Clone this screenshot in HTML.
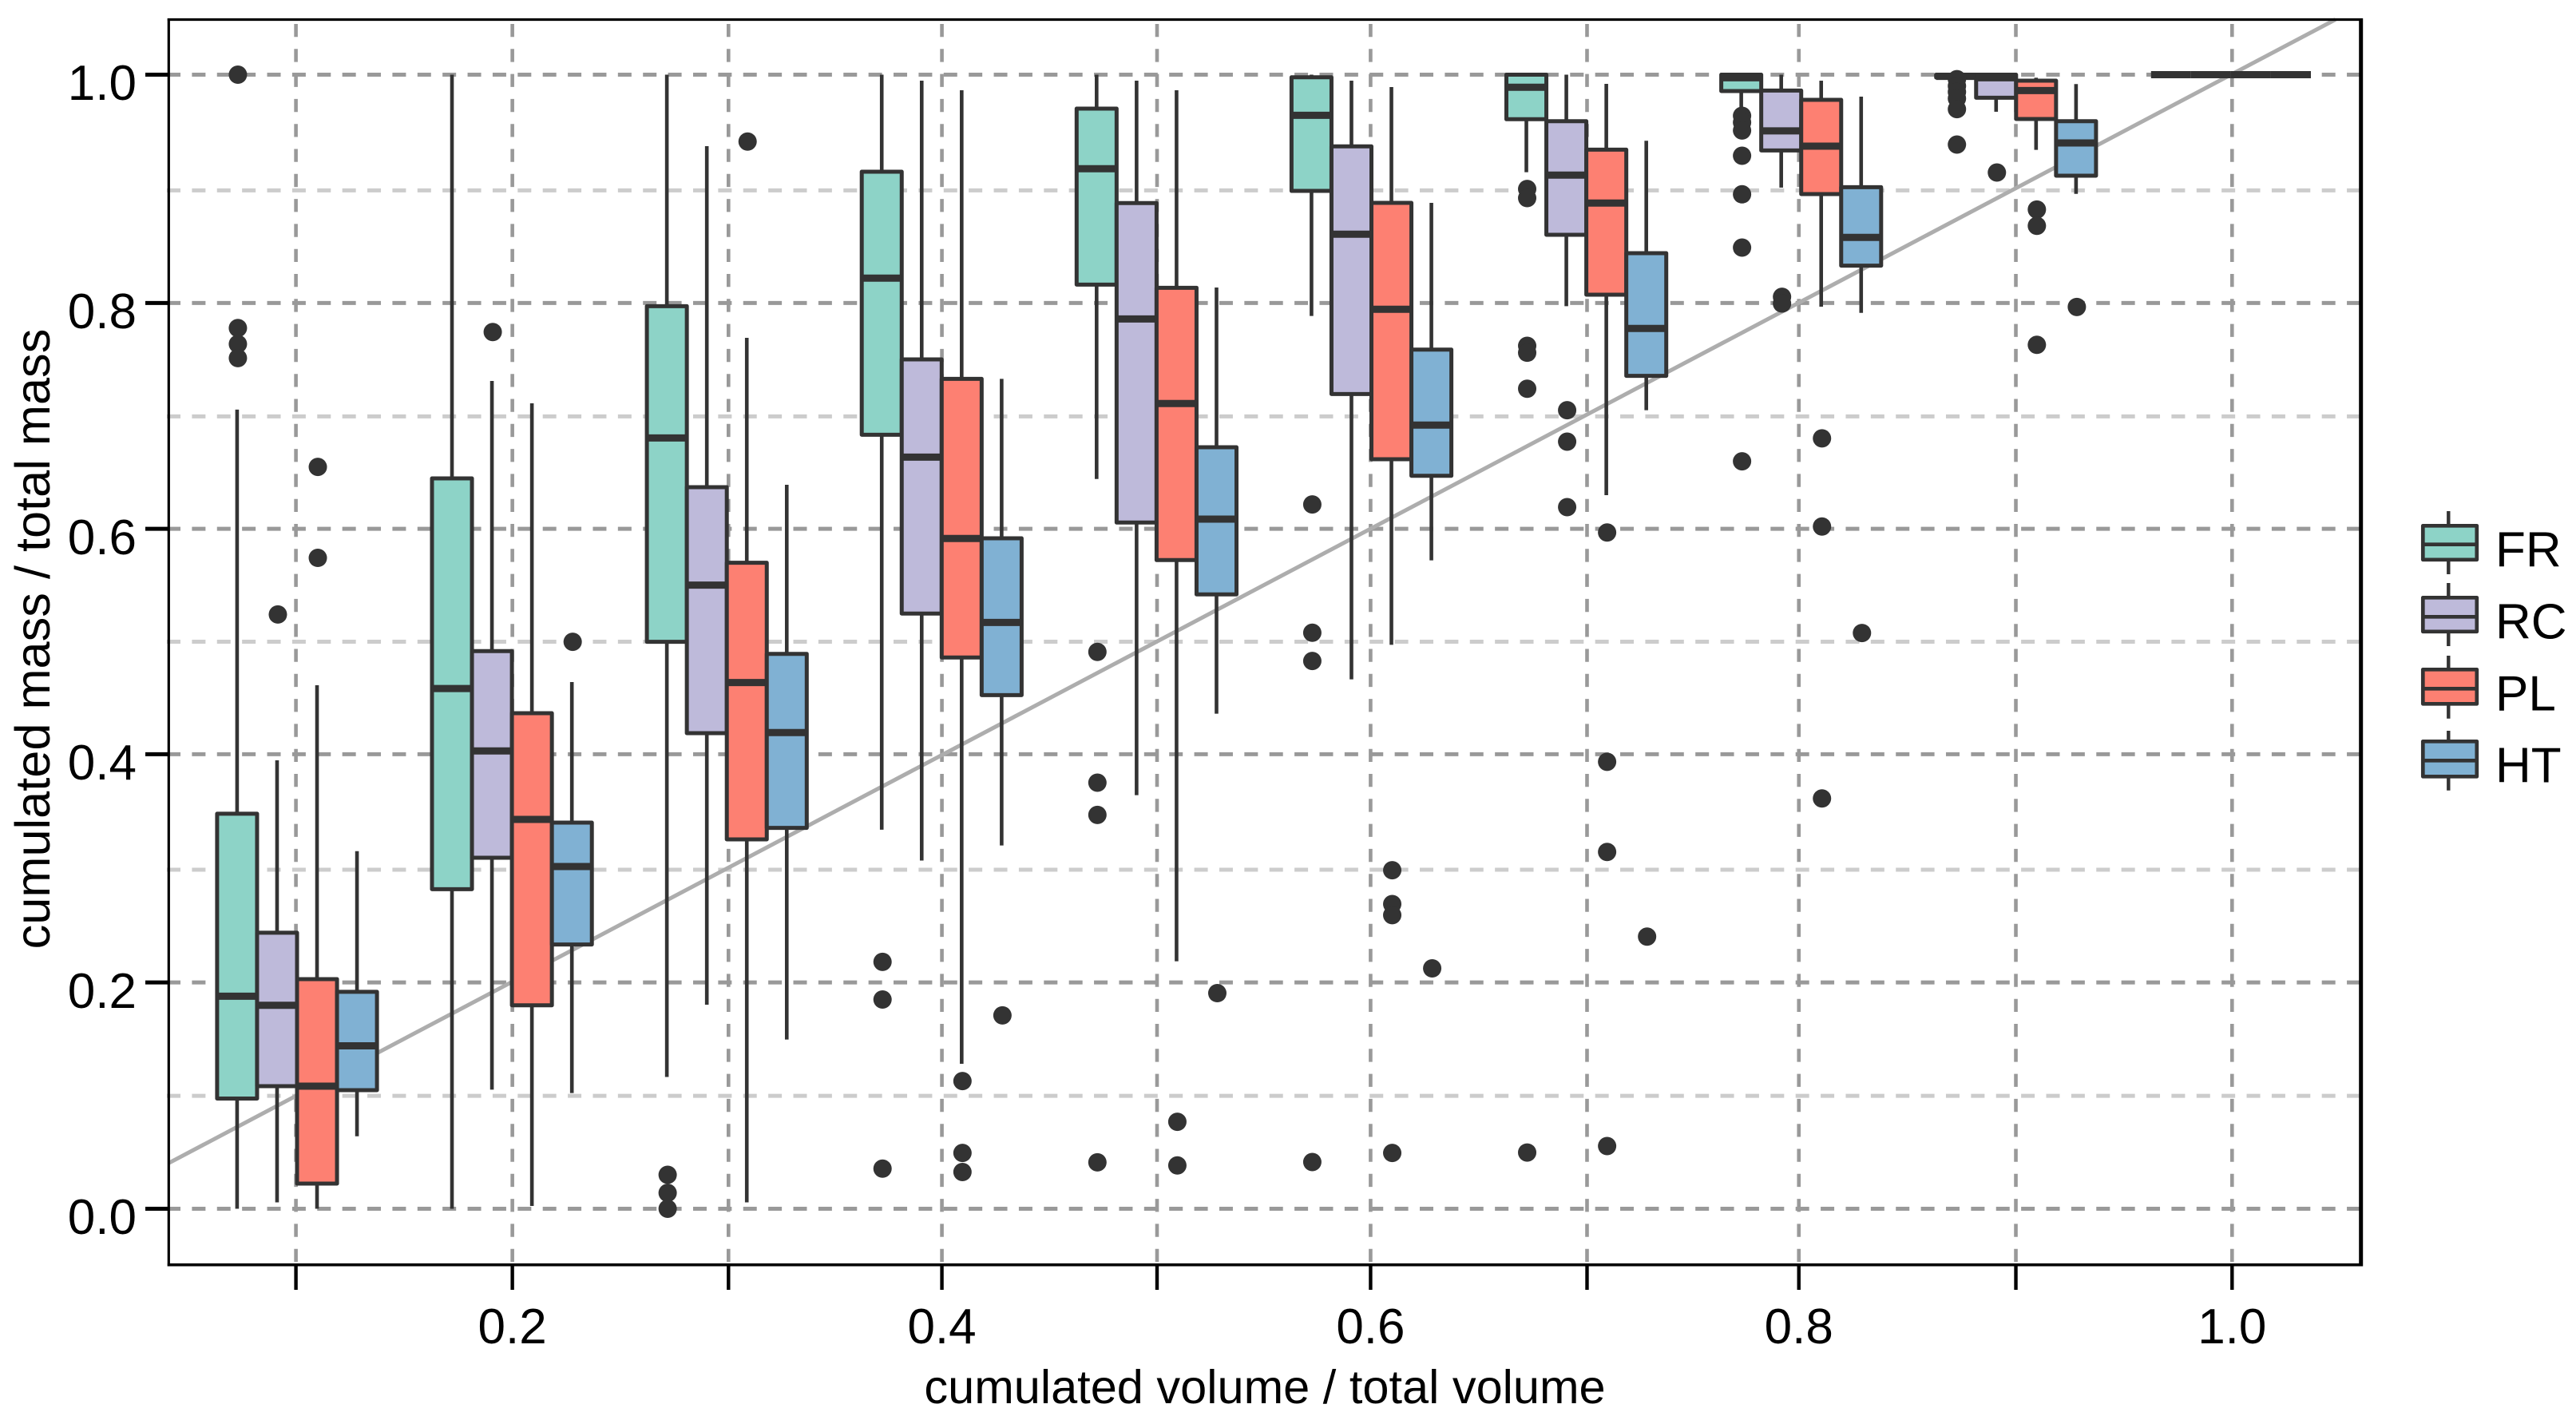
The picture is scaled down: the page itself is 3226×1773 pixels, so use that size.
<!DOCTYPE html>
<html lang="en">
<head>
<meta charset="utf-8">
<title>Cumulated mass vs cumulated volume</title>
<style>
html,body{margin:0;padding:0;background:#fff;}
svg{display:block;}
text{font-family:"Liberation Sans",Arial,sans-serif;fill:#000;}
</style>
</head>
<body>
<svg id="chart" xmlns="http://www.w3.org/2000/svg" width="3226" height="1773" viewBox="0 0 3226 1773">
  <rect x="0" y="0" width="3226" height="1773" fill="#ffffff"/>
  <g id="grid"></g>
  <g id="refline"></g>
  <g id="marks"></g>
  <g id="axes">
    <line x1="209.8" y1="24.5" x2="2959" y2="24.5" stroke="#000" stroke-width="3.2"/>
    <line x1="209.8" y1="1583.7" x2="2959" y2="1583.7" stroke="#000" stroke-width="3.6"/>
    <line x1="211.3" y1="23" x2="211.3" y2="1585.5" stroke="#000" stroke-width="3.2"/>
    <line x1="2956.7" y1="23" x2="2956.7" y2="1585.5" stroke="#000" stroke-width="5"/>
  </g>
  <text x="1584" y="1757" font-size="59.5" text-anchor="middle">cumulated volume / total volume</text>
  <text x="62" y="800" font-size="61.3" text-anchor="middle" transform="rotate(-90 62 800)">cumulated mass / total mass</text>
  <g stroke="#333333">
    <g>
      <line x1="3066.3" y1="640" x2="3066.3" y2="719" stroke-width="4.4"/>
      <rect x="3034.3" y="658.3" width="67.5" height="42.5" fill="#8DD3C7" stroke-width="4.7" stroke-linejoin="round"/>
      <line x1="3034" y1="681.7" x2="3102" y2="681.7" stroke-width="4.7"/>
      <text x="3125" y="709.3" font-size="62" stroke="none">FR</text>
    </g>
    <g>
      <line x1="3066.3" y1="730" x2="3066.3" y2="809" stroke-width="4.4"/>
      <rect x="3034.3" y="748.3" width="67.5" height="42.5" fill="#BEBADA" stroke-width="4.7" stroke-linejoin="round"/>
      <line x1="3034" y1="772.3" x2="3102" y2="772.3" stroke-width="4.7"/>
      <text x="3125" y="799.3" font-size="62" stroke="none">RC</text>
    </g>
    <g>
      <line x1="3066.3" y1="821" x2="3066.3" y2="899.7" stroke-width="4.4"/>
      <rect x="3034.3" y="838.3" width="67.5" height="43" fill="#FD8072" stroke-width="4.7" stroke-linejoin="round"/>
      <line x1="3034" y1="862.3" x2="3102" y2="862.3" stroke-width="4.7"/>
      <text x="3125" y="889.3" font-size="62" stroke="none">PL</text>
    </g>
    <g>
      <line x1="3066.3" y1="915" x2="3066.3" y2="989.7" stroke-width="4.4"/>
      <rect x="3034.3" y="928.3" width="67.5" height="44" fill="#80B1D3" stroke-width="4.7" stroke-linejoin="round"/>
      <line x1="3034" y1="952.3" x2="3102" y2="952.3" stroke-width="4.7"/>
      <text x="3125" y="979.3" font-size="62" stroke="none">HT</text>
    </g>
  </g>
</svg>
<script>
// Categories
const groups = [0.1,0.2,0.3,0.4,0.5,0.6,0.7,0.8,0.9,1.0];
const seriesNames = ['FR','RC','PL','HT'];

// FR series
const frHi  = [0.7047,1,1,1,1,1,1,1,1,1];
const frQ3  = [0.3483,0.644,0.7959,0.9144,0.9701,0.9977,1,1,1,1];
const frMed = [0.1874,0.4587,0.6797,0.8206,0.9171,0.9642,0.9889,0.9973,0.9985,1];
const frQ1  = [0.0972,0.2818,0.4999,0.6825,0.8149,0.8975,0.9607,0.9856,0.9975,1];
const frLo  = [0,0,0.1162,0.3342,0.6435,0.7872,0.9140,0.9692,0.9975,1];
const frOut = [[1,0.7766,0.7625,0.7501],[],[0.0299,0.014,0],[0.2177,0.1845,0.0354],[0.4910,0.3757,0.3473,0.0409],[0.6210,0.5079,0.4830,0.0412],[0.8992,0.8912,0.7609,0.7548,0.7231,0.0496],[0.9637,0.9579,0.9508,0.9285,0.8945,0.8475,0.6591],[0.996,0.990,0.9848,0.979,0.9696,0.9384],[]];

// RC series
const rcHi  = [0.3954,0.7299,0.9370,0.9947,0.9947,0.9947,1,1,1,1];
const rcQ3  = [0.2434,0.4917,0.6363,0.7489,0.8868,0.9368,0.9590,0.9860,1,1];
const rcMed = [0.1794,0.4037,0.5499,0.6628,0.7846,0.8593,0.9114,0.9504,0.9973,1];
const rcQ1  = [0.1081,0.3095,0.4194,0.5248,0.6051,0.7184,0.8588,0.9332,0.9797,1];
const rcLo  = [0.0056,0.105,0.1799,0.3070,0.3647,0.4668,0.7959,0.9004,0.9673,1];
const rcOut = [[0.524],[0.7731],[],[],[],[],[0.7041,0.6764,0.6187],[0.8041,0.7982],[0.9137],[]];

// PL series
const plHi  = [0.4616,0.7102,0.7680,0.9863,0.9863,0.9891,0.9919,0.9947,0.9973,1];
const plQ3  = [0.2025,0.437,0.5696,0.7318,0.8121,0.8870,0.9339,0.9778,0.9947,1];
const plMed = [0.1081,0.3433,0.4640,0.5910,0.7100,0.7931,0.8868,0.9370,0.9860,1];
const plQ1  = [0.0222,0.1794,0.3257,0.4861,0.5720,0.6609,0.8060,0.8947,0.9609,1];
const plLo  = [0,0.0025,0.0056,0.1278,0.2182,0.4973,0.6292,0.7954,0.9337,1];
const plOut = [[0.6541,0.5739],[],[0.9410],[0.1126,0.0492,0.0324],[0.0767,0.0382],[0.2985,0.2687,0.2589,0.0492],[0.5963,0.3941,0.3146,0.0553],[0.6793,0.6016,0.3618],[0.8811,0.8667,0.7618],[]];

// HT series
const htHi  = [0.3153,0.4644,0.6384,0.7318,0.8123,0.8870,0.9417,0.9806,0.9917,1];
const htQ3  = [0.1913,0.3405,0.4893,0.5912,0.6715,0.7576,0.8426,0.9008,0.9590,1];
const htMed = [0.1437,0.3018,0.4199,0.5170,0.6081,0.6910,0.7762,0.8565,0.9398,1];
const htQ1  = [0.1046,0.2330,0.3358,0.4529,0.5417,0.6463,0.7344,0.8316,0.9109,1];
const htLo  = [0.0639,0.102,0.1492,0.3203,0.4365,0.5717,0.7041,0.7900,0.8949,1];
const htOut = [[],[0.4999],[],[0.1705],[0.1901],[0.2120],[0.2400],[0.5077],[0.7952],[]];

// Tick labels and gridline locations, in data units
const yTickLabels = ['0.0','0.2','0.4','0.6','0.8','1.0'];
const yMajorAt = [0,0.1996,0.4008,0.5996,0.7987,1];
const yMinorAt = [0.0996,0.2989,0.5,0.6987,0.8980];
const xTickLabels = ['','0.2','','0.4','','0.6','','0.8','','1.0'];
const xGridAt = [0.09948,0.2002,0.30078,0.4001,0.50022,0.5996,0.70033,0.7989,0.8999,1.00052];

const seriesData = {
  FR:{hi:frHi,q3:frQ3,med:frMed,q1:frQ1,lo:frLo,out:frOut,fill:'#8DD3C7'},
  RC:{hi:rcHi,q3:rcQ3,med:rcMed,q1:rcQ1,lo:rcLo,out:rcOut,fill:'#BEBADA'},
  PL:{hi:plHi,q3:plQ3,med:plMed,q1:plQ1,lo:plLo,out:plOut,fill:'#FD8072'},
  HT:{hi:htHi,q3:htQ3,med:htMed,q1:htQ1,lo:htLo,out:htOut,fill:'#80B1D3'}
};

// Axis functions
function xScale(v){ return 372 + (v - 0.1) * 2691; }
function yScale(v){ return 1513.5 - 1420 * v; }
const dodge = 0.0186;
const boxWidth = 0.0186;
const PANEL = {left:211.3, right:2956.7, top:24.5, bottom:1583.7};

const NS = 'http://www.w3.org/2000/svg';
function make(parent, tag, attrs){
  const el = document.createElementNS(NS, tag);
  for (const k in attrs) el.setAttribute(k, attrs[k]);
  parent.appendChild(el);
  return el;
}

const gridG = document.getElementById('grid');
const refG = document.getElementById('refline');
const marksG = document.getElementById('marks');
const axesG = document.getElementById('axes');

// Horizontal minor gridlines
yMinorAt.forEach(function(v){
  const el = make(gridG,'line',{x1:209,x2:PANEL.right,y1:yScale(v),y2:yScale(v),stroke:'#cccccc','stroke-width':5,'stroke-dasharray':'17 14.38'});
  
  
});
// Vertical gridlines
xGridAt.forEach(function(v){
  const el = make(gridG,'line',{x1:xScale(v),x2:xScale(v),y1:30,y2:PANEL.bottom,stroke:'#999999','stroke-width':4.6,'stroke-dasharray':'16.3 15'});
  
  
});
// Horizontal major gridlines
yMajorAt.forEach(function(v){
  const el = make(gridG,'line',{x1:209,x2:PANEL.right,y1:yScale(v),y2:yScale(v),stroke:'#999999','stroke-width':5,'stroke-dasharray':'17 14.38'});
  
  
});

// Reference line y = x, clipped to the panel
(function(){
  const v0 = 0.1 + (PANEL.left - 372) / 2691;
  const v1 = (1513.5 - PANEL.top) / 1420;
  const el = make(refG,'line',{x1:xScale(v0),y1:yScale(v0),x2:xScale(v1),y2:yScale(v1),stroke:'#adadad','stroke-width':5});
  
  
})();

// Boxes
groups.forEach(function(g, gi){
  seriesNames.forEach(function(s, si){
    const d = seriesData[s];
    const cx = xScale(g + (si - 1.5) * dodge);
    const half = (xScale(boxWidth) - xScale(0)) / 2;

    const whiskerHi = make(marksG,'line',{x1:cx,x2:cx,y1:yScale(d.hi[gi]),y2:yScale(d.q3[gi]),stroke:'#333333','stroke-width':4.6});
    
    

    const whiskerLo = make(marksG,'line',{x1:cx,x2:cx,y1:yScale(d.q1[gi]),y2:yScale(d.lo[gi]),stroke:'#333333','stroke-width':4.6});
    
    

    const box = make(marksG,'rect',{x:cx-half,width:half*2,y:yScale(d.q3[gi]),height:Math.max(0,yScale(d.q1[gi])-yScale(d.q3[gi])),fill:d.fill,stroke:'#333333','stroke-width':5,'stroke-linejoin':'round'});
    
    

    const median = make(marksG,'line',{x1:cx-half,x2:cx+half,y1:yScale(d.med[gi]),y2:yScale(d.med[gi]),stroke:'#333333','stroke-width':9});
    
    

    d.out[gi].forEach(function(o){
      const dot = make(marksG,'circle',{cx:cx+1,cy:yScale(o),r:11.5,fill:'#333333'});
      
      
    });
  });
});

// Y axis ticks and labels
yMajorAt.forEach(function(v, i){
  const tick = make(axesG,'line',{x1:182,x2:PANEL.left,y1:yScale(v),y2:yScale(v),stroke:'#000','stroke-width':5});
  
  
  const label = make(axesG,'text',{x:171,y:yScale(v)+31.7,'font-size':62,'text-anchor':'end'});
  label.textContent = yTickLabels[i];
  
  
});

// X axis ticks and labels
xGridAt.forEach(function(v, i){
  const tick = make(axesG,'line',{x1:xScale(v),x2:xScale(v),y1:PANEL.bottom,y2:1615,stroke:'#000','stroke-width':4.4});
  
  
  if (xTickLabels[i]) {
    const label = make(axesG,'text',{x:xScale(v),y:1682,'font-size':62,'text-anchor':'middle'});
    label.textContent = xTickLabels[i];
    
    
  }
});
</script>
</body>
</html>
